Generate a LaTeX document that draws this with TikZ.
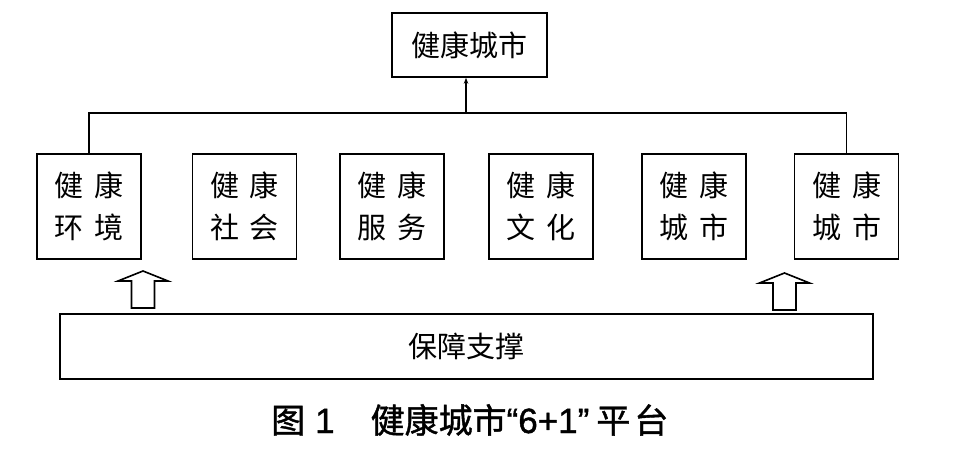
\documentclass[tikz,border=0pt]{standalone}
\usepackage{fontspec}
\setmainfont{Noto Sans CJK SC}
\newfontfamily\capfont{Noto Sans CJK SC}[AutoFakeBold=1.2]
\newfontfamily\latinfont{Liberation Sans}[AutoFakeBold=1.2]
\usetikzlibrary{arrows.meta}
\begin{document}
\begin{tikzpicture}[x=1pt,y=-1pt,
  box/.style={draw, line width=1.6pt, inner sep=0pt, align=center},
  topbox/.style={box, minimum width=155pt, minimum height=64pt, font=\fontsize{29}{29}\selectfont},
  cell/.style={box, minimum width=104pt, minimum height=105pt, font=\fontsize{29}{42}\selectfont},
  supbox/.style={box, minimum width=813pt, minimum height=65pt, font=\fontsize{29}{29}\selectfont},
  conn/.style={line width=1.6pt},
  uparrow/.style={line width=1.2pt, -{Stealth[length=6pt,width=4.5pt]}},
  barrow/.pic={\draw[line width=1.6pt, line join=miter, fill=white]
     (-11.5,0) -- (-11.5,-27) -- (-25,-27) -- (0,-37) -- (25,-27) -- (11.5,-27) -- (11.5,0) -- cycle;}
]
\useasboundingbox[fill=white] (0,0) rectangle (968,455);
\node[topbox] (top) at (469.5,45) {健康城市};
\node[cell] (b1) at (89,206.5)  {健\hspace{11pt}康\\环\hspace{11pt}境};
\node[cell] (b2) at (244.5,206.5) {健\hspace{11pt}康\\社\hspace{11pt}会};
\node[cell] (b3) at (392,206.5) {健\hspace{11pt}康\\服\hspace{11pt}务};
\node[cell] (b4) at (541,206.5) {健\hspace{11pt}康\\文\hspace{11pt}化};
\node[cell] (b5) at (694,206.5) {健\hspace{11pt}康\\城\hspace{11pt}市};
\node[cell] (b6) at (846.5,206.5) {健\hspace{11pt}康\\城\hspace{11pt}市};
\node[supbox] (sup) at (466.5,346.5) {保障支撑};
\coordinate (j) at (466,113);
\draw[conn] (b1.north) -- (b1.north |- j) -- (b6.north |- j) -- (b6.north);
\draw[uparrow] (j) -- (j |- top.south);
\pic at (143,308) {barrow};
\pic at (784.5,310) {barrow};
\node[anchor=base west, inner sep=0pt, font=\fontsize{34}{34}\selectfont\capfont\bfseries] (cap) at (271,433)
  {图\hspace{10pt}{\fontsize{35}{35}\latinfont\bfseries 1}\hspace{36pt}健康城市{\fontsize{35}{35}\latinfont\bfseries “6+1”}\hspace{7pt}平\hspace{4pt}台};
\end{tikzpicture}
\end{document}
